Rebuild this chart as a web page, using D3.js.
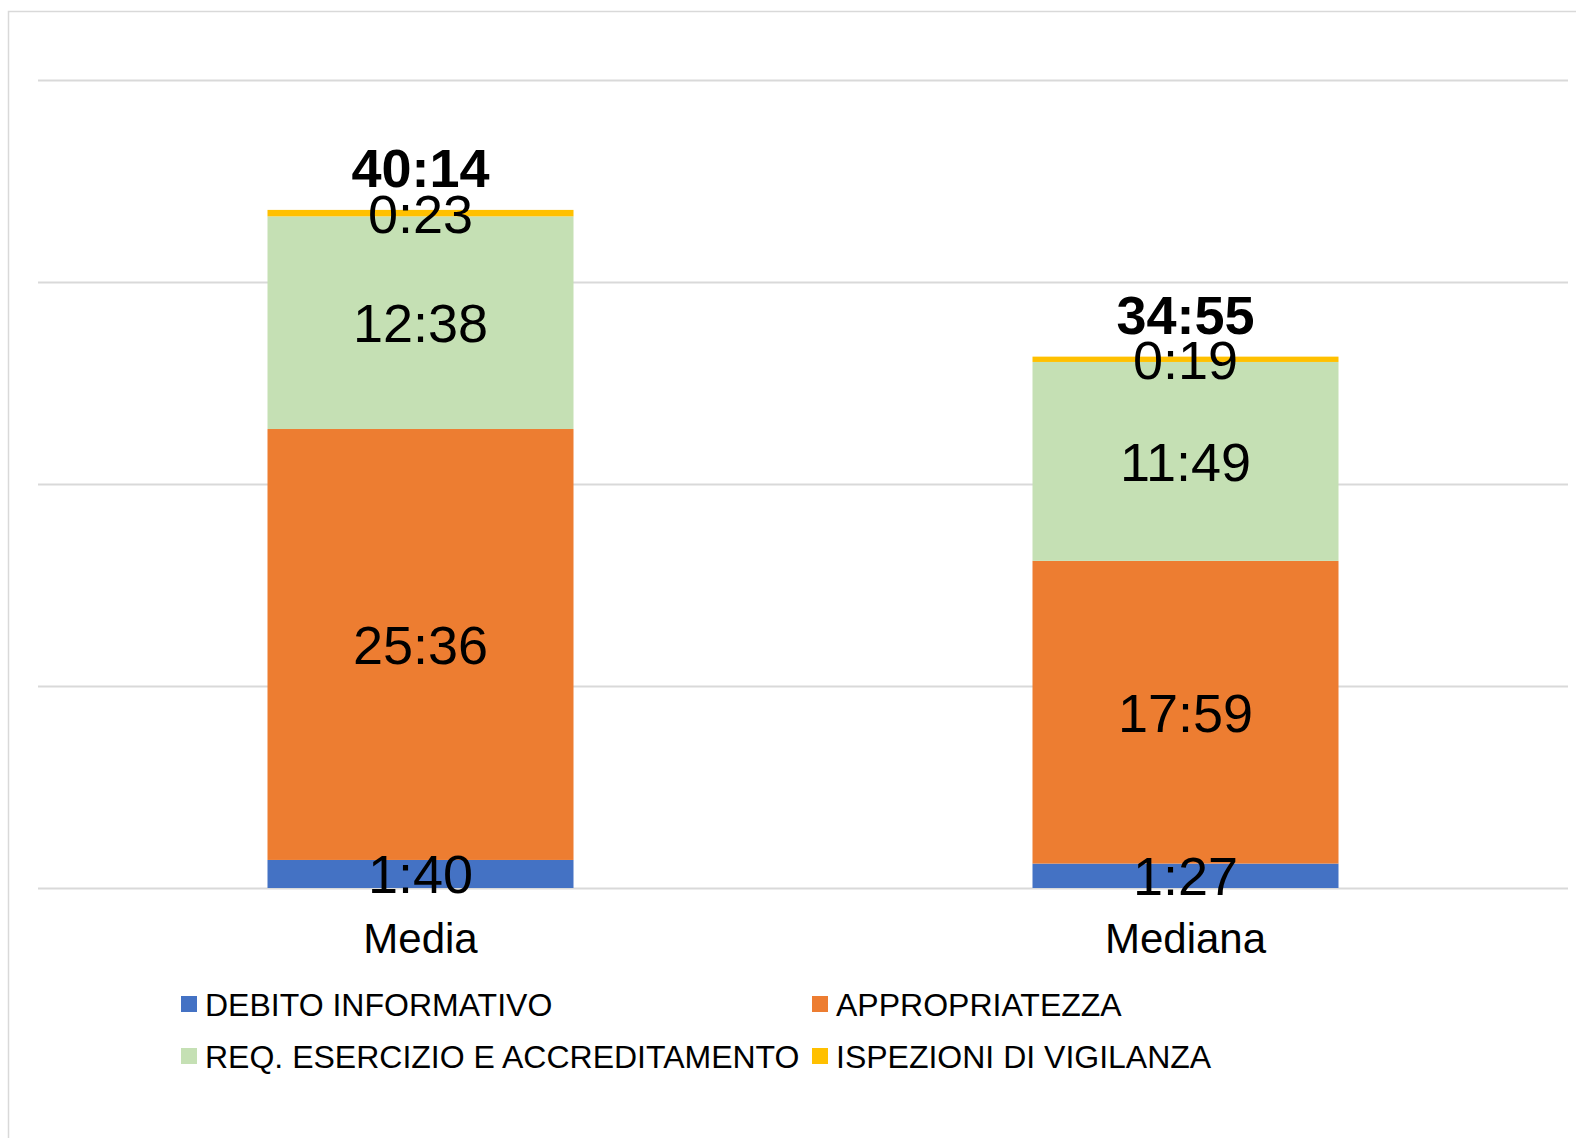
<!DOCTYPE html>
<html>
<head>
<meta charset="utf-8">
<script src="https://cdn.jsdelivr.net/npm/d3@7"></script>
<style>
  html, body { margin: 0; padding: 0; background: #fff; }
  text { font-family: "Liberation Sans", Arial, sans-serif; fill: #000; }
</style>
</head>
<body>
<div id="chart"></div>
<script>
// categories and series (minutes)
var categories = ['Media', 'Mediana'];
var seriesNames = ['DEBITO INFORMATIVO', 'APPROPRIATEZZA', 'REQ. ESERCIZIO E ACCREDITAMENTO', 'ISPEZIONI DI VIGILANZA'];
var seriesColors = ['#4472C4', '#ED7D31', '#C5E0B4', '#FFC000'];
var debito = [100, 87];          // 1:40, 1:27
var appropriatezza = [1536, 1079]; // 25:36, 17:59
var requisiti = [758, 709];      // 12:38, 11:49
var ispezioni = [23, 19];        // 0:23, 0:19
var totals = [2414, 2095];       // 40:14, 34:55
var yTicks = [0, 720, 1440, 2160, 2880];

function fmt(m) {
    var h = Math.floor(m / 60), mm = m % 60;
    return h + ':' + (mm < 10 ? '0' : '') + mm;
}

var W = 1576, H = 1138;
var svg = d3.select('#chart').append('svg').attr('width', W).attr('height', H);

// chart frame (right/bottom edges run off the picture)
svg.append('rect').attr('x', 8.5).attr('y', 11.5).attr('width', 1700).attr('height', 1300)
    .attr('fill', 'none').attr('stroke', '#d9d9d9').attr('stroke-width', 1.5);

var plot = { left: 38, right: 1568, top: 80, bottom: 888 };

var x = d3.scaleBand().domain(categories).range([plot.left, plot.right])
    .paddingInner(0.6).paddingOuter(0.3);
var y = d3.scaleLinear().domain([0, 2880]).range([plot.bottom, plot.top]);

// gridlines
var grid = svg.append('g').attr('transform', 'translate(' + plot.left + ',0)')
    .call(d3.axisLeft(y).tickValues(yTicks).tickSize(-(plot.right - plot.left)).tickFormat(''));
grid.select('.domain').remove();
grid.selectAll('.tick line').attr('stroke', '#d9d9d9').attr('stroke-width', 2);

// stacked data
var rows = categories.map(function (c, i) {
    return { cat: c, s0: debito[i], s1: appropriatezza[i], s2: requisiti[i], s3: ispezioni[i], total: totals[i] };
});
var keys = ['s0', 's1', 's2', 's3'];
var stacked = d3.stack().keys(keys)(rows);

var layers = svg.selectAll('g.layer').data(stacked).enter().append('g')
    .attr('class', 'layer').attr('fill', function (d, i) { return seriesColors[i]; });

layers.selectAll('rect').data(function (d) { return d; }).enter().append('rect')
    .attr('x', function (d) { return x(d.data.cat); })
    .attr('width', x.bandwidth())
    .attr('y', function (d) { return y(d[1]); })
    .attr('height', function (d) { return y(d[0]) - y(d[1]); });

// segment labels
stacked.forEach(function (layer) {
    svg.selectAll(null).data(layer).enter().append('text')
        .attr('x', function (d) { return x(d.data.cat) + x.bandwidth() / 2; })
        .attr('y', function (d) { return (y(d[0]) + y(d[1])) / 2; })
        .attr('dy', '0.36em')
        .attr('text-anchor', 'middle')
        .style('font-size', '54px')
        .text(function (d) { return fmt(d[1] - d[0]); });
});

// totals above bars
svg.selectAll('text.total').data(stacked[3]).enter().append('text')
    .attr('class', 'total')
    .attr('x', function (d) { return x(d.data.cat) + x.bandwidth() / 2; })
    .attr('y', function (d) { return y(d[1]) - 23; })
    .attr('text-anchor', 'middle')
    .style('font-size', '54px').style('font-weight', 'bold')
    .text(function (d) { return fmt(d.data.total); });

// category labels
svg.selectAll('text.cat').data(categories).enter().append('text')
    .attr('class', 'cat')
    .attr('x', function (d) { return x(d) + x.bandwidth() / 2; })
    .attr('y', 953)
    .attr('text-anchor', 'middle')
    .style('font-size', '42px')
    .text(function (d) { return d; });

// legend (2 x 2)
var legendPos = [[181, 1004], [812, 1004], [181, 1056], [812, 1056]];
var lg = svg.selectAll('g.legend').data(seriesNames).enter().append('g')
    .attr('class', 'legend')
    .attr('transform', function (d, i) { return 'translate(' + legendPos[i][0] + ',' + legendPos[i][1] + ')'; });
lg.append('rect').attr('x', 0).attr('y', -8).attr('width', 16).attr('height', 16)
    .attr('fill', function (d, i) { return seriesColors[i]; });
lg.append('text').attr('x', 24).attr('y', 0).attr('dy', '0.36em')
    .style('font-size', '32px')
    .text(function (d) { return d; });
</script>
</body>
</html>
